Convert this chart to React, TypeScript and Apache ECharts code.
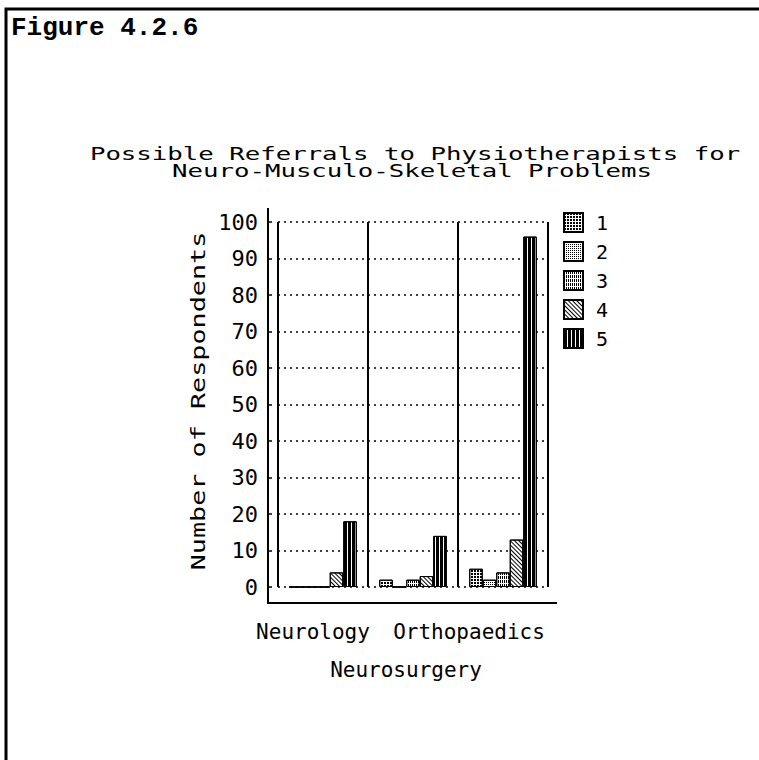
import React, { useEffect, useRef } from "react";
import * as echarts from "echarts";

const categories = ["Neurology", "Neurosurgery", "Orthopaedics"];
const seriesNames = ["1", "2", "3", "4", "5"];
const values1 = [0, 2, 5];
const values2 = [0, 0, 2];
const values3 = [0, 2, 4];
const values4 = [4, 3, 13];
const values5 = [18, 14, 96];
const yTicks = { min: 0, max: 100, interval: 10 };
const titleLines = ["Possible Referrals to Physiotherapists for", "Neuro-Musculo-Skeletal Problems"];
const figureLabel = "Figure 4.2.6";
const yAxisName = "Number of Respondents";

const MONO = "DejaVu Sans Mono";

const decals: any[] = [
  { symbol: "rect", color: "#000", backgroundColor: "#fff", dashArrayX: [2, 1], dashArrayY: [2, 1], symbolSize: 1, rotation: 0 },
  { symbol: "rect", color: "#000", backgroundColor: "#fff", dashArrayX: [1, 1], dashArrayY: [1, 1], symbolSize: 1, rotation: 0 },
  { symbol: "rect", color: "#000", backgroundColor: "#fff", dashArrayX: [1, 1], dashArrayY: [3, 1], symbolSize: 1, rotation: 0 },
  { symbol: "rect", color: "#000", backgroundColor: "#fff", dashArrayX: [1, 0], dashArrayY: [1, 2], symbolSize: 1, rotation: Math.PI / 4 },
  { symbol: "rect", color: "#000", backgroundColor: "#fff", dashArrayX: [3, 1], dashArrayY: [1, 0], symbolSize: 1, rotation: 0 },
];

const labelShift = [20, 14, 68];

export default function App() {
  const ref = useRef<HTMLDivElement>(null);
  useEffect(() => {
    if (!ref.current) return;
    const chart = echarts.init(ref.current, null, { renderer: "svg" });
    const allValues = [values1, values2, values3, values4, values5];
    const labelStyle = { fontFamily: MONO, fontSize: 21, lineHeight: 38, color: "#000" };
    const option: any = {
      animation: false,
      backgroundColor: "#fff",
      grid: { left: 278, right: 211, top: 222, bottom: 173 },
      legend: {
        data: seriesNames,
        orient: "vertical",
        left: 558,
        top: 207,
        itemWidth: 19,
        itemHeight: 19,
        itemGap: 8,
        icon: "rect",
        itemStyle: { borderWidth: 2, borderColor: "#000" },
        textStyle: { fontFamily: MONO, fontSize: 20, lineHeight: 19, color: "#000", padding: [0, 0, 0, 8] },
      },
      xAxis: {
        type: "category",
        data: categories,
        boundaryGap: true,
        axisLine: { show: false },
        axisTick: { show: false },
        splitLine: { show: true, interval: 0, lineStyle: { color: "#000", width: 2, type: "solid" } },
        axisLabel: {
          interval: 0,
          margin: 26,
          ...labelStyle,
          formatter: (v: string, i: number) => (i === 1 ? "\n" : "") + "{s" + i + "|" + v + "}",
          rich: {
            s0: { ...labelStyle, padding: [0, labelShift[0], 0, 0] },
            s1: { ...labelStyle, padding: [0, labelShift[1], 0, 0] },
            s2: { ...labelStyle, padding: [0, labelShift[2], 0, 0] },
          },
        },
      },
      yAxis: {
        type: "value",
        min: yTicks.min,
        max: yTicks.max,
        interval: yTicks.interval,
        offset: 10,
        axisLine: { show: false },
        axisTick: { show: true, inside: true, length: 4, lineStyle: { color: "#000", width: 1.5 } },
        splitLine: { show: true, lineStyle: { color: "#000", width: 1.5, type: [2, 4] } },
        axisLabel: { fontFamily: MONO, fontSize: 22, color: "#000", margin: 10 },
      },
      series: seriesNames.map((name, i) => ({
        name,
        type: "bar",
        data: allValues[i],
        barGap: "0%",
        barCategoryGap: "25%",
        itemStyle: { color: "#fff", borderColor: "#000", borderWidth: 1, decal: decals[i] },
      })),
      graphic: [
        { type: "polyline", shape: { points: [[6, 760], [6, 9], [759, 9]] }, style: { stroke: "#000", lineWidth: 3, fill: "none" } },
        { type: "polyline", shape: { points: [[268, 208], [268, 603], [557, 603]] }, style: { stroke: "#000", lineWidth: 2, fill: "none" } },
        { type: "text", x: 11, y: 28, style: { text: figureLabel, fontFamily: "Liberation Mono", fontWeight: "bold", fontSize: 26, fill: "#000", textVerticalAlign: "middle" } },
        { type: "text", x: 415, y: 154, scaleX: 1.43, style: { text: titleLines[0], fontFamily: MONO, fontSize: 18, fill: "#000", textAlign: "center", textVerticalAlign: "middle" } },
        { type: "text", x: 412, y: 171, scaleX: 1.43, style: { text: titleLines[1], fontFamily: MONO, fontSize: 18, fill: "#000", textAlign: "center", textVerticalAlign: "middle" } },
        { type: "text", x: 198, y: 401, rotation: Math.PI / 2, scaleX: 1.41, style: { text: yAxisName, fontFamily: MONO, fontSize: 19, fill: "#000", textAlign: "center", textVerticalAlign: "middle" } },
      ],
    };
    chart.setOption(option);
    return () => chart.dispose();
  }, []);
  return <div ref={ref} style={{ position: "absolute", left: 0, top: 0, width: 759, height: 760 }} />;
}
